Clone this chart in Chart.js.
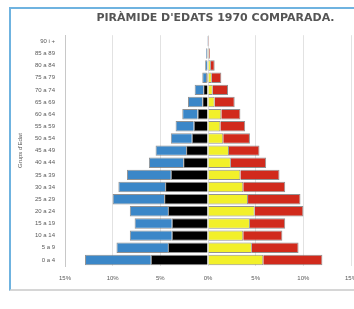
<!DOCTYPE html>
<html>
<head>
<meta charset="utf-8">
<script src="https://cdn.jsdelivr.net/npm/chart.js@4/dist/chart.umd.min.js"></script>
<style>
  html, body { margin: 0; padding: 0; background: #fff; }
  #frame { position: relative; width: 354px; height: 309px; overflow: hidden; background: #fff; }
  #box { position: absolute; left: 9px; top: 7px; width: 420px; height: 280px;
         border-left: 2px solid #6fb3e0; border-top: 2px solid #6fb3e0; border-bottom: 2px solid #d6d6d6; }
  #wrap { position: absolute; left: 11px; top: 9px; width: 409px; height: 278px; }
</style>
</head>
<body>
<div id="frame">
  <div id="box"></div>
  <div id="wrap"><canvas id="c" width="409" height="278"></canvas></div>
</div>
<script>
// Age groups (bottom to top)
const ageGroups = ["0 a 4","5 a 9","10 a 14","15 a 19","20 a 24","25 a 29","30 a 34","35 a 39","40 a 44","45 a 49","50 a 54","55 a 59","60 a 64","65 a 69","70 a 74","75 a 79","80 a 84","85 a 89","90 i +"];
// Left side (men), percentages, drawn as negative
const menInner = [6.0, 4.2, 3.8, 3.8, 4.2, 4.6, 4.5, 3.9, 2.6, 2.3, 1.7, 1.5, 1.1, 0.6, 0.5, 0.2, 0.1, 0.1, 0.05];
const menOuter = [6.9, 5.4, 4.4, 3.9, 4.0, 5.4, 4.9, 4.6, 3.6, 3.2, 2.2, 1.9, 1.6, 1.5, 0.9, 0.4, 0.2, 0.1, 0.05];
// Right side (women)
const womenInner = [5.8, 4.6, 3.7, 4.4, 4.9, 4.2, 3.7, 3.4, 2.4, 2.2, 1.6, 1.3, 1.4, 0.7, 0.5, 0.4, 0.3, 0.1, 0.05];
const womenOuter = [6.2, 4.9, 4.1, 3.7, 5.1, 5.5, 4.4, 4.1, 3.7, 3.2, 2.8, 2.6, 2.0, 2.1, 1.6, 1.0, 0.4, 0.1, 0.05];
const xTickValues = [-15, -10, -5, 0, 5, 10, 15];
const xTickLabels = ["15%", "10%", "5%", "0%", "5%", "10%", "15%"];
const titleText = "PIRÀMIDE D'EDATS 1970 COMPARADA.";
const yTitleText = "Grups d'Edat";

const neg = a => a.map(v => -v);
const common = { borderColor: 'rgba(110,110,110,0.75)', borderWidth: 1, barPercentage: 0.86, categoryPercentage: 1 };

new Chart(document.getElementById('c'), {
  type: 'bar',
  data: {
    labels: ageGroups,
    datasets: [
      Object.assign({ label: 'Homes A', data: neg(menInner), backgroundColor: '#000000' }, common),
      Object.assign({ label: 'Homes B', data: neg(menOuter), backgroundColor: '#3b87c8' }, common),
      Object.assign({ label: 'Dones A', data: womenInner, backgroundColor: '#f2f02a' }, common),
      Object.assign({ label: 'Dones B', data: womenOuter, backgroundColor: '#d12a1c' }, common)
    ]
  },
  options: {
    indexAxis: 'y',
    responsive: false,
    animation: false,
    layout: { padding: 0 },
    plugins: {
      legend: { display: false },
      tooltip: { enabled: false },
      title: {
        display: true, text: titleText, color: '#555555',
        font: { family: 'DejaVu Sans', size: 11, weight: 'bold' },
        padding: { top: 3, bottom: 10 }
      }
    },
    scales: {
      x: {
        stacked: true, min: -15, max: 15,
        afterBuildTicks: s => { s.ticks = xTickValues.map(v => ({ value: v })); },
        afterFit: s => { s.height = 21; },
        grid: { color: '#e2e2e2', drawTicks: false },
        border: { display: false },
        ticks: {
          padding: 9, color: '#595959',
          font: { family: 'Liberation Sans', size: 6 },
          callback: (v, i) => xTickLabels[i]
        }
      },
      y: {
        stacked: true, reverse: true,
        afterFit: s => { s.width = 54; },
        grid: { display: false, drawTicks: false },
        border: { display: true, color: '#c8c8c8', dash: [2, 2] },
        ticks: { padding: 10, color: '#595959', font: { family: 'Liberation Sans', size: 6 }, autoSkip: false },
        title: { display: true, text: yTitleText, color: '#595959', padding: { top: 6, bottom: 0 },
                 font: { family: 'Liberation Sans', size: 6 } }
      },
      spacer: {
        type: 'linear', position: 'right', display: true,
        afterFit: s => { s.width = 69; },
        grid: { display: false, drawTicks: false },
        border: { display: false },
        ticks: { display: false }
      }
    }
  }
});
</script>
</body>
</html>
